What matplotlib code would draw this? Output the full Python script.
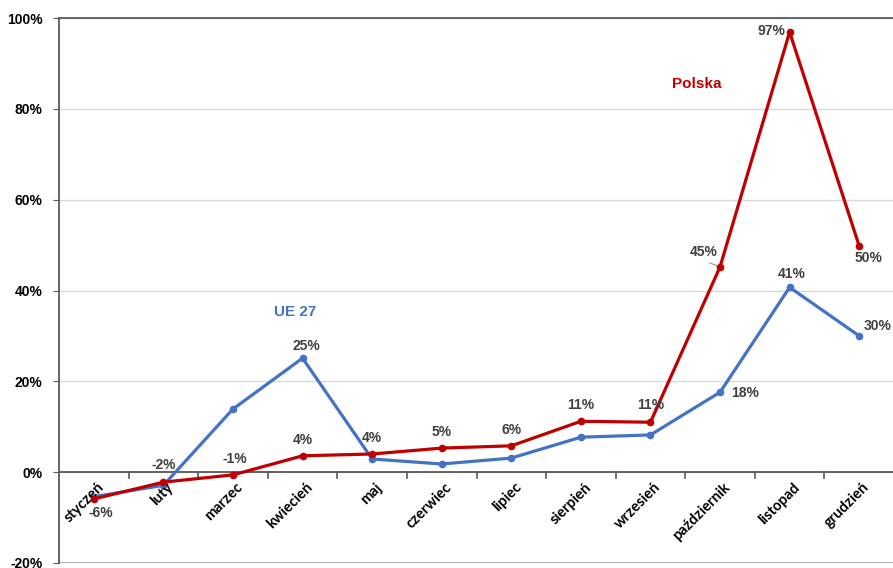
import matplotlib
matplotlib.use("Agg")
import matplotlib.pyplot as plt
from matplotlib.ticker import FuncFormatter, FixedLocator

months = ["styczeń", "luty", "marzec", "kwiecień", "maj", "czerwiec", "lipiec",
          "sierpień", "wrzesień", "październik", "listopad", "grudzień"]
polska = [-5.9, -2.2, -0.6, 3.6, 4.0, 5.3, 5.8, 11.2, 11.0, 45.2, 96.9, 49.8]
ue27 = [-5.4, -2.9, 13.9, 25.1, 2.9, 1.8, 3.1, 7.7, 8.2, 17.6, 40.7, 30.0]
y_ticks = [-20, 0, 20, 40, 60, 80, 100]

# label offsets in pixels for each labelled point
polska_offsets = {0: (7, -14), 1: (0, 17), 2: (2, 16), 3: (0, 16), 4: (0, 16),
                  5: (0, 16), 6: (0, 16), 7: (0, 16), 8: (0, 17),
                  9: (-16, 15), 10: (-4, 1), 11: (9, -12)}
ue_offsets = {3: (4, 12), 9: (25, -1), 10: (2, 13), 11: (18, 10)}

RED = "#C00000"
BLUE = "#4472C4"
LABEL = "#404040"

fig = plt.figure(figsize=(8.93, 5.68), dpi=100)
ax = fig.add_axes([59 / 893, 5 / 568, 835 / 893, 545 / 568])

x = list(range(len(months)))
ax.plot(x, ue27, color=BLUE, lw=2.3, marker="o", ms=4.5, zorder=3)
ax.plot(x, polska, color=RED, lw=2.3, marker="o", ms=4.5, zorder=4)

ax.set_xlim(-0.5, len(months) - 0.5)
ax.set_ylim(-20, 100)
ax.yaxis.set_major_locator(FixedLocator(y_ticks))
ax.yaxis.set_major_formatter(FuncFormatter(lambda v, p: f"{v:.0f}%"))
ax.grid(axis="y", color="#D9D9D9", lw=1)
ax.set_axisbelow(True)

for s in ["right", "bottom"]:
    ax.spines[s].set_visible(False)
for s in ["left", "top"]:
    ax.spines[s].set_color("#595959")
    ax.spines[s].set_linewidth(1.3)
ax.axhline(0, color="#595959", lw=1.3, zorder=2)
ax.axhline(-20, color="#A0A0A0", lw=1.2, zorder=2)

# category boundary tick marks on the zero line
for b in range(1, len(months)):
    ax.plot([b - 0.5, b - 0.5], [0, -1.3], color="#595959", lw=1.2,
            clip_on=False, zorder=2)

ax.tick_params(axis="y", length=4, color="#595959", labelsize=10, pad=8)
for t in ax.get_yticklabels():
    t.set_fontweight("bold")
    t.set_family("Liberation Sans")
ax.set_xticks([])

for i, m in enumerate(months):
    ax.annotate(m, (i, 0), xytext=(3, -8), textcoords="offset pixels",
                rotation=45, ha="right", va="top", rotation_mode="anchor",
                fontsize=10.5, fontweight="bold", family="Lato", color="black")

def fmt(v):
    return f"{round(v):.0f}%"

for i, (dx, dy) in polska_offsets.items():
    ha = "right" if i == 10 else "center"
    ax.annotate(fmt(polska[i]), (i, polska[i]), xytext=(dx, dy),
                textcoords="offset pixels", ha=ha, va="center",
                fontsize=10, fontweight="bold", family="Liberation Sans",
                color=LABEL, zorder=5)
for i, (dx, dy) in ue_offsets.items():
    ax.annotate(fmt(ue27[i]), (i, ue27[i]), xytext=(dx, dy),
                textcoords="offset pixels", ha="center", va="center",
                fontsize=10, fontweight="bold", family="Liberation Sans",
                color=LABEL, zorder=5)

# leader line for the October label
ax.annotate("", (9, polska[9]), xytext=(-13, 5), textcoords="offset pixels",
            arrowprops=dict(arrowstyle="-", color="#A6A6A6", lw=1))

ax.text(8.67, 85.5, "Polska", color=RED, fontsize=11, fontweight="bold",
        family="Liberation Sans", ha="center", va="center")
ax.text(2.9, 35.2, "UE 27", color=BLUE, fontsize=11, fontweight="bold",
        family="Liberation Sans", ha="center", va="center")

fig.savefig("out.png", dpi=100)
